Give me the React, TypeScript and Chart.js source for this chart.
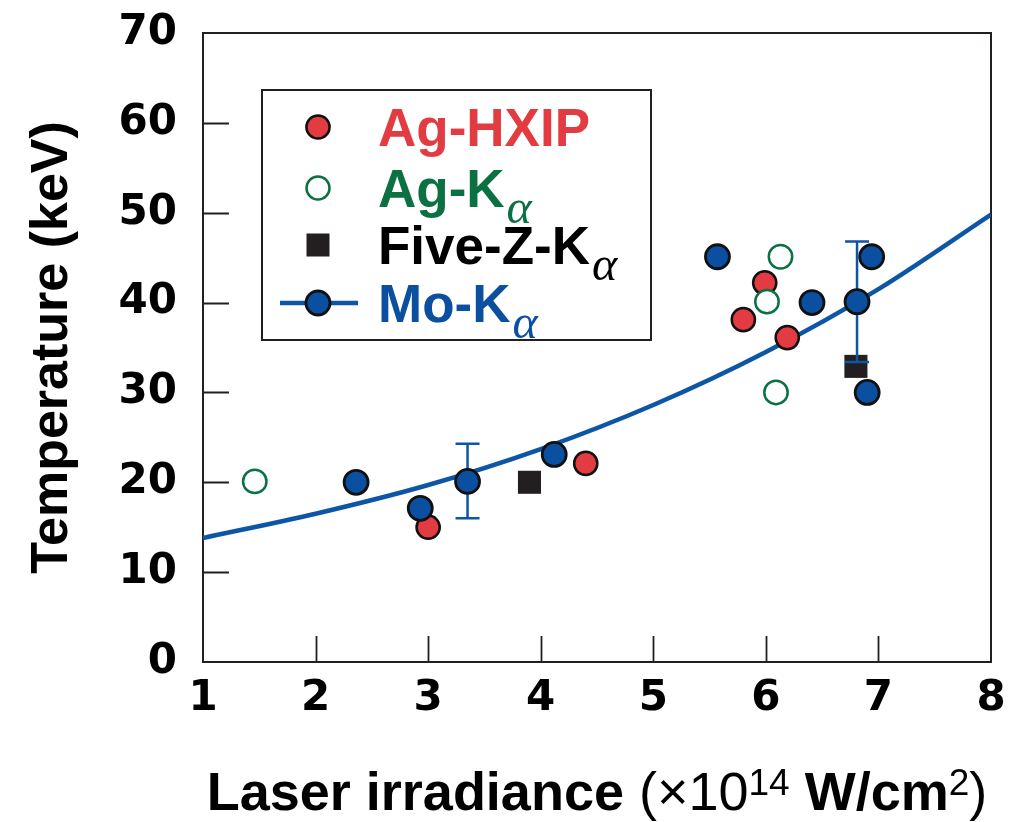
import { useEffect, useRef } from "react";
import { Chart, registerables } from "chart.js";

Chart.register(...registerables);

// ---- data ----
const xTickValues = [1, 2, 3, 4, 5, 6, 7, 8];
const yTickValues = [0, 10, 20, 30, 40, 50, 60, 70];

const agHxipX = [3.0, 4.4, 5.99, 5.8, 6.19];
const agHxipY = [15.0, 22.1, 42.2, 38.1, 36.1];

const agKaX = [1.46, 6.13, 6.01, 6.09];
const agKaY = [20.1, 45.1, 40.1, 30.0];

const fiveZX = [3.9, 6.8];
const fiveZY = [20.0, 32.9];

const moKaX = [2.36, 2.93, 3.35, 4.12, 5.57, 6.41, 6.81, 6.94, 6.9];
const moKaY = [20.0, 17.1, 20.1, 23.1, 45.1, 40.0, 40.1, 45.1, 30.0];
const moErrLow: (number | null)[] = [null, null, 16.0, null, null, null, 33.4, null, null];
const moErrHigh: (number | null)[] = [null, null, 24.3, null, null, null, 46.8, null, null];

const fitX = [1, 2, 3, 4, 5, 6, 7, 8];
const fitY = [13.8, 16.5, 19.7, 23.7, 28.6, 34.5, 41.5, 49.8];

const legendMain = ["Ag-HXIP", "Ag-K", "Five-Z-K", "Mo-K"];
const legendSub = ["", "α", "α", "α"];

const RED = "#e23b41";
const GREEN = "#0b7042";
const BLUE = "#0b4fa0";
const DARK = "#231f20";
const LINE_BLUE = "#0d55a5";

const toPts = (xs: number[], ys: number[]) => xs.map((x, i) => ({ x, y: ys[i] }));

const FONT = '"Liberation Sans", Arial, sans-serif';

const customPlugin = {
  id: "customDecor",
  beforeDatasetsDraw(chart: any) {
    const { ctx, chartArea: a, scales } = chart;
    ctx.save();
    ctx.strokeStyle = DARK;
    ctx.lineWidth = 2;
    ctx.strokeRect(a.left, a.top, a.right - a.left, a.bottom - a.top);
    ctx.lineWidth = 1.8;
    ctx.beginPath();
    yTickValues.forEach((v) => {
      if (v === yTickValues[0] || v === yTickValues[yTickValues.length - 1]) return;
      const py = Math.round(scales.y.getPixelForValue(v)) + 0.5;
      ctx.moveTo(a.left, py);
      ctx.lineTo(a.left + 26, py);
    });
    xTickValues.forEach((v) => {
      if (v === xTickValues[0] || v === xTickValues[xTickValues.length - 1]) return;
      const px = Math.round(scales.x.getPixelForValue(v)) + 0.5;
      ctx.moveTo(px, a.bottom);
      ctx.lineTo(px, a.bottom - 26);
    });
    ctx.stroke();
    ctx.restore();
  },
  afterDatasetDraw(chart: any, args: any) {
    if (args.index !== 3) return;
    const { ctx, scales } = chart;
    ctx.save();
    ctx.strokeStyle = LINE_BLUE;
    ctx.lineWidth = 2.5;
    moKaX.forEach((x, i) => {
      const lo = moErrLow[i];
      const hi = moErrHigh[i];
      if (lo == null || hi == null) return;
      const px = scales.x.getPixelForValue(x);
      const pl = scales.y.getPixelForValue(lo);
      const ph = scales.y.getPixelForValue(hi);
      ctx.beginPath();
      ctx.moveTo(px, pl);
      ctx.lineTo(px, ph);
      ctx.moveTo(px - 12, pl);
      ctx.lineTo(px + 12, pl);
      ctx.moveTo(px - 12, ph);
      ctx.lineTo(px + 12, ph);
      ctx.stroke();
    });
    ctx.restore();
  },
  afterDraw(chart: any) {
    const { ctx, chartArea: a } = chart;
    ctx.save();
    // legend box
    const bx = a.left + 59;
    const by = a.top + 57;
    const bw = 389;
    const bh = 250;
    ctx.fillStyle = "#fff";
    ctx.fillRect(bx, by, bw, bh);
    ctx.strokeStyle = DARK;
    ctx.lineWidth = 2;
    ctx.strokeRect(bx, by, bw, bh);
    const rowOff = [37, 98, 155, 213];
    const colors = [RED, GREEN, "#000", BLUE];
    const mx = bx + 56;
    rowOff.forEach((ro, i) => {
      const my = by + ro;
      if (i === 0) {
        ctx.beginPath();
        ctx.arc(mx, my, 11.6, 0, Math.PI * 2);
        ctx.fillStyle = RED;
        ctx.fill();
        ctx.lineWidth = 2.5;
        ctx.strokeStyle = "#111";
        ctx.stroke();
      } else if (i === 1) {
        ctx.beginPath();
        ctx.arc(mx, my, 11.5, 0, Math.PI * 2);
        ctx.fillStyle = "#fff";
        ctx.fill();
        ctx.lineWidth = 2.5;
        ctx.strokeStyle = GREEN;
        ctx.stroke();
      } else if (i === 2) {
        ctx.fillStyle = DARK;
        ctx.fillRect(mx - 11.5, my - 11.5, 23, 23);
      } else {
        ctx.beginPath();
        ctx.moveTo(bx + 18, my);
        ctx.lineTo(bx + 96, my);
        ctx.lineWidth = 4.5;
        ctx.strokeStyle = LINE_BLUE;
        ctx.stroke();
        ctx.beginPath();
        ctx.arc(mx, my, 12, 0, Math.PI * 2);
        ctx.fillStyle = BLUE;
        ctx.fill();
        ctx.lineWidth = 2.8;
        ctx.strokeStyle = "#111";
        ctx.stroke();
      }
      const tx = bx + 116;
      const ty = my + 19;
      ctx.fillStyle = colors[i];
      ctx.textAlign = "left";
      ctx.textBaseline = "alphabetic";
      ctx.font = `bold 53px ${FONT}`;
      ctx.fillText(legendMain[i], tx, ty);
      if (legendSub[i]) {
        const w = ctx.measureText(legendMain[i]).width;
        ctx.font = `italic 48px "Liberation Serif", serif`;
        ctx.fillText(legendSub[i], tx + w + 2, ty + 16);
      }
    });

    // x axis title
    const parts = [
      { t: "Laser irradiance ", f: `bold 54px ${FONT}`, dy: 0 },
      { t: "(×10", f: `54px ${FONT}`, dy: 0 },
      { t: "14", f: `37px ${FONT}`, dy: -15 },
      { t: " W/cm", f: `bold 54px ${FONT}`, dy: 0 },
      { t: "2", f: `37px ${FONT}`, dy: -15 },
      { t: ")", f: `54px ${FONT}`, dy: 0 },
    ];
    let total = 0;
    const widths = parts.map((p) => {
      ctx.font = p.f;
      const w = ctx.measureText(p.t).width;
      total += w;
      return w;
    });
    let cx = (a.left + a.right) / 2 - total / 2;
    const base = 810;
    ctx.fillStyle = "#000";
    parts.forEach((p, i) => {
      ctx.font = p.f;
      ctx.fillText(p.t, cx, base + p.dy);
      cx += widths[i];
    });

    // y axis title
    ctx.translate(67, (a.top + a.bottom) / 2);
    ctx.rotate(-Math.PI / 2);
    ctx.font = `bold 52px ${FONT}`;
    ctx.textAlign = "center";
    ctx.fillText("Temperature (keV)", 0, 0);
    ctx.restore();
  },
};

export default function App() {
  const ref = useRef<HTMLCanvasElement | null>(null);
  useEffect(() => {
    if (!ref.current) return;
    const chart = new Chart(ref.current, {
      type: "scatter",
      data: {
        datasets: [
          {
            label: "Fit",
            data: toPts(fitX, fitY),
            showLine: true,
            borderColor: LINE_BLUE,
            borderWidth: 4.5,
            pointRadius: 0,
            cubicInterpolationMode: "monotone",
            fill: false,
            order: 5,
          } as any,
          {
            label: "Ag-HXIP",
            data: toPts(agHxipX, agHxipY),
            pointStyle: "circle",
            pointRadius: 11.6,
            backgroundColor: RED,
            borderColor: "#111",
            borderWidth: 2.5,
            order: 4,
          },
          {
            label: "Ag-Kα",
            data: toPts(agKaX, agKaY),
            pointStyle: "circle",
            pointRadius: 11.7,
            backgroundColor: "#fff",
            borderColor: GREEN,
            borderWidth: 2.5,
            order: 3,
          },
          {
            label: "Five-Z-Kα",
            data: toPts(fiveZX, fiveZY),
            pointStyle: "rect",
            pointRadius: 16.3,
            backgroundColor: DARK,
            borderColor: DARK,
            borderWidth: 0,
            order: 2,
          },
          {
            label: "Mo-Kα",
            data: toPts(moKaX, moKaY),
            pointStyle: "circle",
            pointRadius: 12,
            backgroundColor: BLUE,
            borderColor: "#111",
            borderWidth: 2.8,
            order: 1,
          },
        ],
      },
      options: {
        animation: false,
        responsive: true,
        maintainAspectRatio: false,
        layout: { padding: { top: 33, right: 23, left: 0, bottom: 0 } },
        plugins: { legend: { display: false }, tooltip: { enabled: false } },
        scales: {
          x: {
            type: "linear",
            min: 1,
            max: 8,
            afterBuildTicks: (s: any) => {
              s.ticks = xTickValues.map((v) => ({ value: v }));
            },
            afterFit: (s: any) => {
              s.height = 160;
              s.paddingLeft = 0;
              s.paddingRight = 0;
              s.paddingTop = 0;
              s.paddingBottom = 0;
            },
            grid: { display: false, drawTicks: false },
            border: { display: false },
            ticks: {
              padding: 12,
              color: "#000",
              font: { family: '"DejaVu Sans"', weight: "bold", size: 42 },
              maxRotation: 0,
            },
          },
          y: {
            type: "linear",
            min: 0,
            max: 70,
            afterBuildTicks: (s: any) => {
              s.ticks = yTickValues.map((v) => ({ value: v }));
            },
            afterFit: (s: any) => {
              s.width = 203;
              s.paddingLeft = 0;
              s.paddingRight = 0;
              s.paddingTop = 0;
              s.paddingBottom = 0;
            },
            grid: { display: false, drawTicks: false },
            border: { display: false },
            ticks: {
              padding: 26,
              color: "#000",
              font: { family: '"DejaVu Sans"', weight: "bold", size: 42 },
            },
          },
        },
      },
      plugins: [customPlugin],
    });
    return () => chart.destroy();
  }, []);
  return (
    <div style={{ position: "fixed", left: 0, top: 0, width: 1014, height: 822, background: "#fff" }}>
      <canvas ref={ref} />
    </div>
  );
}
